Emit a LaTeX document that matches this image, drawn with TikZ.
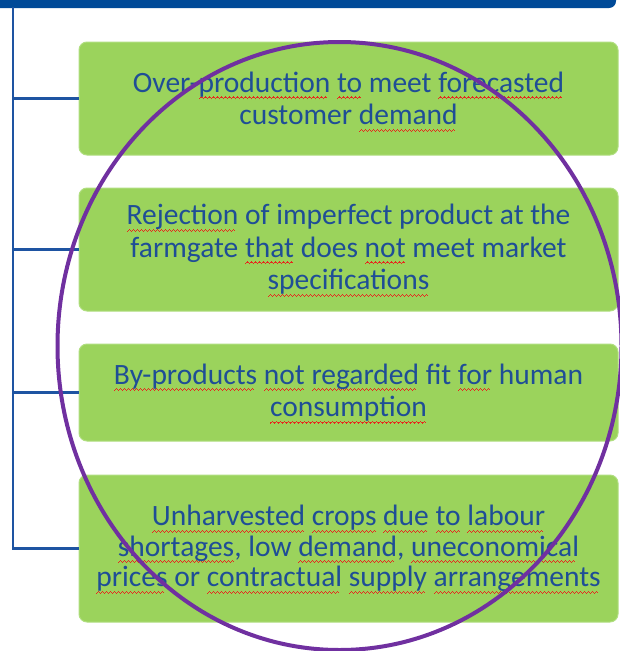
\documentclass[tikz,border=0pt]{standalone}
\usepackage{fontspec}
\setmainfont{Carlito}
\definecolor{barblue}{RGB}{0,74,152}
\definecolor{linkblue}{RGB}{30,84,162}
\definecolor{textblue}{RGB}{31,78,150}
\definecolor{boxgreen}{RGB}{155,211,92}
\definecolor{edgegreen}{RGB}{176,222,128}
\definecolor{ringpurple}{RGB}{112,48,160}
\definecolor{spellred}{RGB}{230,40,30}
% red wavy mark under the flagged words
\newsavebox\spellbox
\newcommand\wavebit{\rule[0pt]{1pt}{1.2pt}\rule[0.9pt]{1pt}{1.2pt}\rule[1.8pt]{1pt}{1.2pt}\rule[0.9pt]{1pt}{1.2pt}}
\newcommand\spell[1]{\sbox\spellbox{#1}\leavevmode
	\rlap{\smash{\lower7pt\hbox to\wd\spellbox{\color{spellred}\leaders\hbox{\wavebit}\hfil}}}\usebox\spellbox}

\begin{document}
\begin{tikzpicture}[x=1pt, y=-1pt]
		\tikzset{
			cause/.style = {rectangle, rounded corners=8pt, fill=boxgreen, draw=edgegreen,
					line width=1pt, minimum width=539pt, inner sep=0pt, align=center,
					text=textblue, font=\fontsize{29.5}{32.5}\selectfont},
			link/.style = {draw=linkblue, line width=2.5pt},
		}
		\useasboundingbox (0,0) rectangle (620,651);

		% top bar
		\fill[barblue, rounded corners=7pt] (-20,-20) rectangle (616,8);

		% the four causes
		\node[cause, minimum height=113pt] (b1) at (348.5,98.5)
			{Over-\spell{production} \spell{to} meet \spell{forecasted}\\customer \spell{demand}};
		\node[cause, minimum height=123pt] (b2) at (348.5,249.5)
			{\spell{Rejection} of imperfect product at the\\farmgate \spell{that} does \spell{not} meet market\\\spell{specifications}};
		\node[cause, minimum height=97pt] (b3) at (348.5,392.5)
			{\spell{By-products} \spell{not} \spell{regarded} fit \spell{for} human\\\spell{consumption}};
		\node[cause, minimum height=147pt, font=\fontsize{29.5}{30.5}\selectfont] (b4) at (348.5,548.5)
			{\spell{Unharvested} \spell{crops} \spell{due} \spell{to} \spell{labour}\\\spell{shortages}, low \spell{demand}, \spell{uneconomical}\\\spell{prices} or \spell{contractual} \spell{supply} \spell{arrangements}};

		% tree lines
		\coordinate (trunk) at (13,7);
		\draw[link] (trunk) |- (b4.west);
		\foreach \n in {b1, b2, b3}
			\draw[link] (trunk |- \n.west) -- (\n.west);

		% ring over the boxes
		\draw[ringpurple, line width=4pt] (339.5,346) ellipse [x radius=282, y radius=304];
	\end{tikzpicture}
\end{document}
